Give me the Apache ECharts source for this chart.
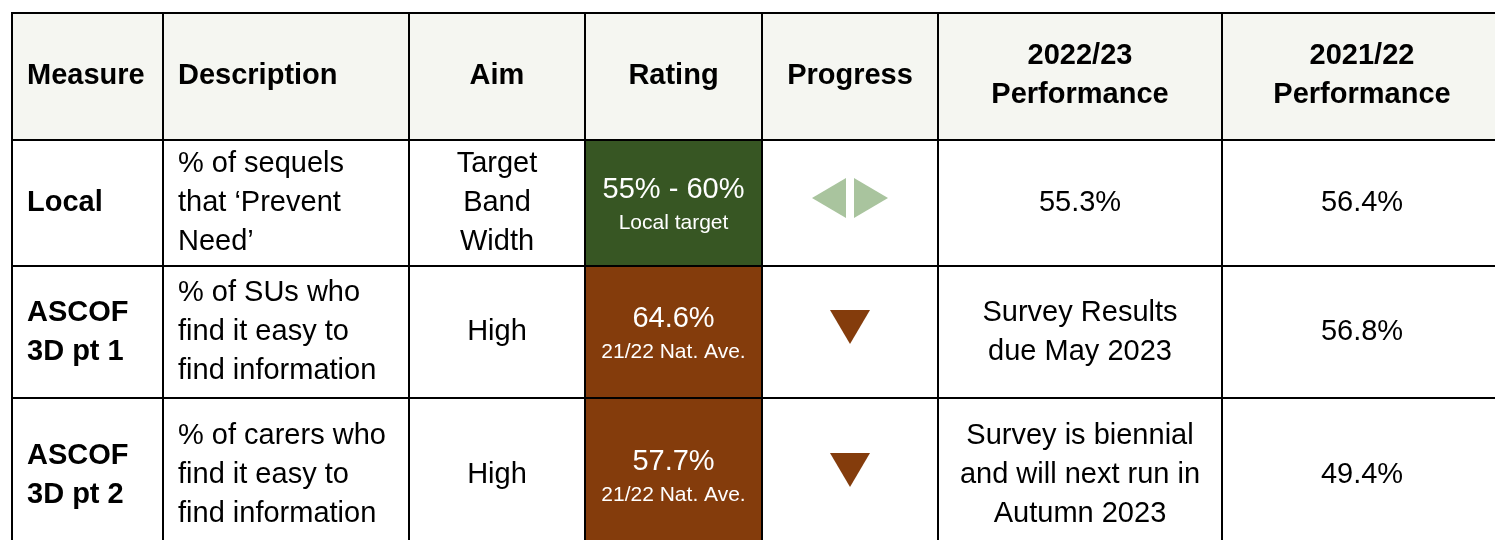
<!DOCTYPE html>
<html>
<head>
<meta charset="utf-8">
<script src="https://cdn.jsdelivr.net/npm/echarts@6/dist/echarts.min.js"></script>
<style>
html,body{margin:0;padding:0;background:#fff;}
#main{width:1495px;height:540px;}
</style>
</head>
<body>
<div id="main"></div>
<script>
// ---- data ----
const headers = ['Measure', 'Description', 'Aim', 'Rating', 'Progress', '2022/23\nPerformance', '2021/22\nPerformance'];
const measures = ['Local', 'ASCOF\n3D pt 1', 'ASCOF\n3D pt 2'];
const descriptions = ['% of sequels\nthat \u2018Prevent\nNeed\u2019', '% of SUs who\nfind it easy to\nfind information', '% of carers who\nfind it easy to\nfind information'];
const aims = ['Target\nBand\nWidth', 'High', 'High'];
const ratingValues = ['55% - 60%', '64.6%', '57.7%'];
const ratingNotes = ['Local target', '21/22 Nat. Ave.', '21/22 Nat. Ave.'];
const ratingStatus = ['onTarget', 'below', 'below'];
const progress = ['level', 'down', 'down'];
const perf2223 = ['55.3%', 'Survey Results\ndue May 2023', 'Survey is biennial\nand will next run in\nAutumn 2023'];
const perf2122 = ['56.4%', '56.8%', '49.4%'];

// ---- layout (not data) ----
const colEdges = [0, 151, 397, 573, 750, 926, 1210, 1490];
const rowEdges = [0, 127, 253, 385, 539];
const VIEW_W = 1483, VIEW_H = 527;
const FAM = "'Liberation Sans', Arial, sans-serif";
const statusColor = { onTarget: '#375623', below: '#843C0C' };
const headerBg = '#F5F6F1';

const bodyCols = [measures, descriptions, aims, null, null, perf2223, perf2122];

const cells = [];
for (let r = 0; r <= measures.length; r++) {
  for (let c = 0; c < headers.length; c++) cells.push([c, r]);
}

function cellRect(api, c, r) {
  const p0 = api.coord([colEdges[c], rowEdges[r]]);
  const p1 = api.coord([colEdges[c + 1], rowEdges[r + 1]]);
  return { x: p0[0], y: p0[1], w: p1[0] - p0[0], h: p1[1] - p0[1] };
}

function renderCell(params, api) {
  const c = api.value(0), r = api.value(1);
  const b = cellRect(api, c, r);
  const cx = b.x + b.w / 2, cy = b.y + b.h / 2;
  const children = [];
  const leftAlign = c <= 1;
  const tx = leftAlign ? b.x + 15 : cx;
  if (r === 0) {
    children.push({ type: 'rect', shape: { x: b.x, y: b.y, width: b.w, height: b.h }, style: { fill: headerBg } });
    children.push({ type: 'text', x: tx, y: cy - 1, style: {
      text: headers[c], fill: '#000', fontFamily: FAM, fontSize: 29, fontWeight: 'bold',
      lineHeight: 39, align: leftAlign ? 'left' : 'center', verticalAlign: 'middle' } });
    return { type: 'group', children };
  }
  const i = r - 1;
  if (c === 3) {
    children.push({ type: 'rect', shape: { x: b.x, y: b.y, width: b.w, height: b.h }, style: { fill: statusColor[ratingStatus[i]] } });
    children.push({ type: 'text', x: cx, y: cy + 2, style: {
      text: '{a|' + ratingValues[i] + '}\n{b|' + ratingNotes[i] + '}',
      align: 'center', verticalAlign: 'middle', fontFamily: FAM,
      rich: {
        a: { fontSize: 29, lineHeight: 36, fill: '#fff', fontFamily: FAM, align: 'center' },
        b: { fontSize: 21, lineHeight: 30, fill: '#fff', fontFamily: FAM, align: 'center' }
      } } });
    return { type: 'group', children };
  }
  if (c === 4) {
    const sy = cy - 5;
    if (progress[i] === 'level') {
      const col = '#A9C49E';
      children.push({ type: 'polygon', shape: { points: [[cx - 38, sy], [cx - 4, sy - 20], [cx - 4, sy + 20]] }, style: { fill: col } });
      children.push({ type: 'polygon', shape: { points: [[cx + 38, sy], [cx + 4, sy - 20], [cx + 4, sy + 20]] }, style: { fill: col } });
    } else if (progress[i] === 'down') {
      children.push({ type: 'polygon', shape: { points: [[cx - 20, sy - 17], [cx + 20, sy - 17], [cx, sy + 17]] }, style: { fill: '#843C0C' } });
    } else {
      children.push({ type: 'polygon', shape: { points: [[cx - 20, sy + 17], [cx + 20, sy + 17], [cx, sy - 17]] }, style: { fill: '#375623' } });
    }
    return { type: 'group', children };
  }
  children.push({ type: 'text', x: tx, y: cy, style: {
    text: bodyCols[c][i], fill: '#000', fontFamily: FAM, fontSize: 29,
    fontWeight: c === 0 ? 'bold' : 'normal',
    lineHeight: 39, align: leftAlign ? 'left' : 'center', verticalAlign: 'middle' } });
  return { type: 'group', children };
}

function renderBorder(params, api) {
  const c = api.value(0), r = api.value(1);
  const b = cellRect(api, c, r);
  return { type: 'rect', shape: { x: b.x, y: b.y, width: b.w, height: b.h },
    style: { fill: null, stroke: '#000', lineWidth: 2 } };
}

const chart = echarts.init(document.getElementById('main'), null, { renderer: 'canvas' });
chart.setOption({
  animation: false,
  backgroundColor: '#fff',
  textStyle: { fontFamily: FAM },
  grid: { left: 12, top: 13, width: VIEW_W, height: VIEW_H, containLabel: false },
  xAxis: { type: 'value', min: 0, max: VIEW_W, show: false },
  yAxis: { type: 'value', min: 0, max: VIEW_H, inverse: true, show: false },
  series: [
    { type: 'custom', renderItem: renderCell, data: cells, clip: false, z: 2, silent: true },
    { type: 'custom', renderItem: renderBorder, data: cells, clip: false, z: 3, silent: true }
  ]
});
</script>
</body>
</html>
